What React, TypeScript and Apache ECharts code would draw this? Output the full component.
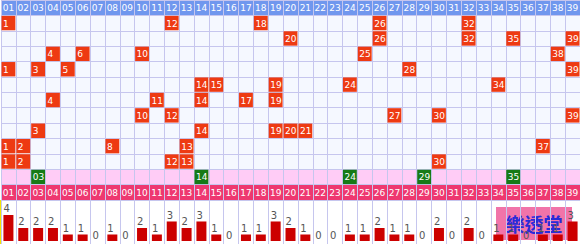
import React, { useEffect, useRef } from "react";
import * as echarts from "echarts";

const numbers: string[] = Array.from({ length: 39 }, (_, i) => String(i + 1).padStart(2, "0"));
const rows: string[] = ["head", "d1", "d2", "d3", "d4", "d5", "d6", "d7", "d8", "d9", "d10", "special", "foot"];

const draws: number[][] = [
  [1, 12, 18, 26, 32],
  [20, 26, 32, 35, 39],
  [4, 6, 10, 25, 38],
  [1, 3, 5, 28, 39],
  [14, 15, 19, 24, 34],
  [4, 11, 14, 17, 19],
  [10, 12, 27, 30, 39],
  [3, 14, 19, 20, 21],
  [1, 2, 8, 13, 37],
  [1, 2, 12, 13, 30],
];
const specials: number[] = [3, 14, 24, 29, 35];
const counts: number[] = [
  4, 2, 2, 2, 1, 1, 0, 1, 0, 2, 1, 3, 2, 3, 1, 0, 1, 1, 3, 2,
  1, 0, 0, 1, 1, 2, 1, 1, 0, 2, 0, 2, 0, 1, 1, 0, 1, 1, 3,
];
const logoText = "樂透堂";

const FONT = "DejaVu Sans";
const BLUE = "#7097ee";
const BG = "#f5f8ff";
const LINE = "#c6c6ee";
const RED = "#ee3a12";
const GREEN = "#167a16";
const PINK = "#ffccf6";
const CRIMSON = "#ee3870";
const BAR = "#cc0000";

function cellRender(fill: string | null, pad: boolean, align: "left" | "center") {
  return (params: any, api: any) => {
    const c = api.value(0);
    const r = api.value(1);
    const n = api.value(2);
    const pt = api.coord([c, r]);
    const size = api.size([1, 1]);
    const w = size[0];
    const h = size[1];
    const children: any[] = [];
    if (fill) {
      children.push({
        type: "rect",
        shape: { x: pt[0] - w / 2 + 0.5, y: pt[1] - h / 2 + 0.5, width: w - 1, height: h - 1 },
        style: { fill },
      });
    }
    children.push({
      type: "text",
      x: align === "left" ? pt[0] - w / 2 + 2 : pt[0],
      y: pt[1] + 0.5,
      style: {
        text: pad ? String(n).padStart(2, "0") : String(n),
        fill: "#ffffff",
        fontSize: 9,
        fontFamily: FONT,
        align,
        verticalAlign: "middle",
      },
    });
    return { type: "group", children };
  };
}

export default function App() {
  const ref = useRef<HTMLDivElement>(null);
  useEffect(() => {
    if (!ref.current) return;
    const chart = echarts.init(ref.current, null, { renderer: "svg" });
    const areaColors = rows.map((r) =>
      r === "head" ? BLUE : r === "special" ? PINK : r === "foot" ? CRIMSON : BG
    );
    const drawData: number[][] = [];
    draws.forEach((d, ri) => d.forEach((n) => drawData.push([n - 1, ri + 1, n])));
    const specialData = specials.map((n) => [n - 1, rows.indexOf("special"), n]);
    const headData = numbers.map((s, i) => [i, 0, Number(s)]);
    const footData = numbers.map((s, i) => [i, rows.length - 1, Number(s)]);

    chart.setOption({
      animation: false,
      grid: [
        { left: 1, right: 0, top: 0, height: 200 },
        { left: 1, right: 0, top: 200, bottom: 0 },
      ],
      xAxis: [
        {
          type: "category",
          gridIndex: 0,
          data: numbers,
          axisLine: { show: false },
          axisTick: { show: false },
          axisLabel: { show: false },
          splitLine: { show: true, interval: 0, lineStyle: { color: LINE, width: 1 } },
        },
        {
          type: "category",
          gridIndex: 1,
          data: numbers,
          axisLine: { show: false },
          axisTick: { show: false },
          axisLabel: { show: false },
          splitLine: { show: true, interval: 0, lineStyle: { color: LINE, width: 1 } },
        },
      ],
      yAxis: [
        {
          type: "category",
          gridIndex: 0,
          data: rows,
          inverse: true,
          axisLine: { show: false },
          axisTick: { show: false },
          axisLabel: { show: false },
          splitLine: { show: true, interval: 0, lineStyle: { color: LINE, width: 1 } },
          splitArea: { show: true, interval: 0, areaStyle: { color: areaColors } },
        },
        {
          type: "value",
          gridIndex: 1,
          min: -0.46,
          max: 6.3,
          axisLine: { show: false },
          axisTick: { show: false },
          axisLabel: { show: false },
          splitLine: { show: false },
        },
      ],
      series: [
        {
          type: "custom",
          name: "head",
          xAxisIndex: 0,
          yAxisIndex: 0,
          data: headData,
          renderItem: cellRender(null, true, "center"),
          silent: true,
        },
        {
          type: "custom",
          name: "foot",
          xAxisIndex: 0,
          yAxisIndex: 0,
          data: footData,
          renderItem: cellRender(null, true, "center"),
          silent: true,
        },
        {
          type: "custom",
          name: "draws",
          xAxisIndex: 0,
          yAxisIndex: 0,
          data: drawData,
          renderItem: cellRender(RED, false, "left"),
          silent: true,
        },
        {
          type: "custom",
          name: "special",
          xAxisIndex: 0,
          yAxisIndex: 0,
          data: specialData,
          renderItem: cellRender(GREEN, true, "left"),
          silent: true,
        },
        {
          type: "bar",
          name: "counts",
          xAxisIndex: 1,
          yAxisIndex: 1,
          data: counts,
          barWidth: 10,
          itemStyle: { color: BAR },
          silent: true,
          label: {
            show: true,
            position: [0, -11],
            color: "#555555",
            fontSize: 10,
            fontFamily: FONT,
          },
        },
      ],
      graphic: [
        {
          type: "rect",
          left: 0,
          top: 200,
          shape: { width: 1.5, height: 44 },
          style: { fill: "#f2e600" },
          silent: true,
        },
        {
          type: "group",
          left: 496,
          top: 207,
          silent: true,
          children: [
            {
              type: "rect",
              shape: { x: 0, y: 0, width: 76, height: 33 },
              style: { fill: "rgba(236,70,140,0.75)" },
            },
            {
              type: "text",
              x: 38,
              y: 16.5,
              style: {
                text: logoText,
                fill: "#2a2ad8",
                fontSize: 19,
                fontWeight: "bold",
                fontFamily: "Noto Sans CJK TC",
                align: "center",
                verticalAlign: "middle",
              },
            },
          ],
        },
      ],
    });
    return () => chart.dispose();
  }, []);
  return (
    <div
      ref={ref}
      style={{ position: "fixed", left: 0, top: 0, width: 580, height: 244, background: "#ffffff" }}
    />
  );
}
